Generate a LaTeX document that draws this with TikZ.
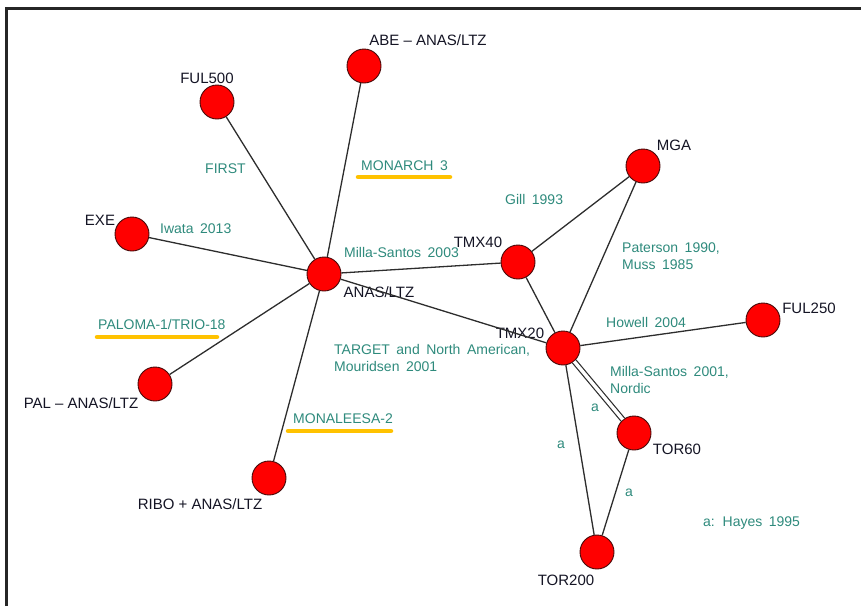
\documentclass[tikz,border=0pt]{standalone}
\usepackage{fontspec}
\setmainfont{Liberation Sans}
\usetikzlibrary{positioning}
\definecolor{nmared}{RGB}{255,0,0}
\definecolor{nmarim}{RGB}{70,10,10}
\definecolor{nmateal}{RGB}{46,138,124}
\definecolor{nmaink}{RGB}{20,20,36}
\definecolor{nmalink}{RGB}{45,45,45}
\definecolor{nmagold}{RGB}{255,194,0}

\begin{document}
\begin{tikzpicture}[x=1pt,y=-1pt,
    trt/.style={circle,draw=nmarim,fill=nmared,line width=0.9pt,minimum size=34pt,inner sep=0pt},
    trtname/.style={text=nmaink,inner sep=0pt,font={\fontsize{15}{17}\selectfont}},
    study/.style={text=nmateal,inner sep=0pt,anchor=west,align=left,font={\fontsize{14}{17}\selectfont\spaceskip=6.5pt\relax}},
    link/.style={draw=nmalink,line width=1.3pt},
    hilite/.style={draw=nmagold,line width=4.5pt,line cap=round}]
    \useasboundingbox (0,0) rectangle (861,606);
    \draw[line width=3pt,black!85] (6,606) -- (6,8.5) -- (861,8.5);
    % treatments
    \node[trt] (anas) at (324,274) {};\node[trtname] (anasname) at (379,292) {ANAS/LTZ};
    \node[trt] (abe) at (364,66) {};\node[trtname] (abename) at (428,40) {ABE – ANAS/LTZ};
    \node[trt] (ful500) at (217,102) {};\node[trtname] (ful500name) at (207,78) {FUL500};
    \node[trt] (exe) at (132,234) {};\node[trtname] (exename) at (100,220) {EXE};
    \node[trt] (pal) at (155,384) {};\node[trtname] (palname) at (81,403) {PAL – ANAS/LTZ};
    \node[trt] (ribo) at (269,478) {};\node[trtname] (riboname) at (200,504) {RIBO + ANAS/LTZ};
    \node[trt] (tmx40) at (518,262) {};\node[trtname] (tmx40name) at (478,242) {TMX40};
    \node[trt] (mga) at (643,166) {};\node[trtname] (mganame) at (674,145) {MGA};
    \node[trt] (tmx20) at (563,348) {};\node[trtname] (tmx20name) at (520,333) {TMX20};
    \node[trt] (ful250) at (763,320) {};\node[trtname] (ful250name) at (809,308) {FUL250};
    \node[trt] (tor60) at (634,433) {};\node[trtname] (tor60name) at (677,449) {TOR60};
    \node[trt] (tor200) at (597,552) {};\node[trtname] (tor200name) at (566,580) {TOR200};
    % comparisons
    \foreach \other in {abe,ful500,exe,pal,ribo,tmx40,tmx20}
      \draw[link] (anas) -- (\other);
    \draw[link] (tmx40) -- (mga);\draw[link] (tmx40) -- (tmx20);\draw[link] (mga) -- (tmx20);
    \draw[link] (tmx20) -- (ful250);\draw[link] (tmx20) -- (tor200);\draw[link] (tor60) -- (tor200);
    \draw[link,line width=1.2pt,double=white,double distance=3.4pt] (tmx20) -- (tor60);
    % trials
    \node[study] (first) at (205,169) {FIRST};
    \node[study] (monarch) at (361,166) {MONARCH 3};\draw[hilite] (358,177) -- (450,177);
    \node[study] (iwata) at (160,229) {Iwata 2013};
    \node[study] (milla03) at (344,252) {Milla-Santos 2003};
    \node[study] (gill) at (505,199) {Gill 1993};
    \node[study] (paterson) at (622,256) {Paterson 1990,\\Muss 1985};
    \node[study] (paloma) at (98,324) {PALOMA-1/TRIO-18};\draw[hilite] (97,337) -- (217,337);
    \node[study] (target) at (334,358) {TARGET and North American,\\Mouridsen 2001};
    \node[study] (howell) at (606,322) {Howell 2004};
    \node[study] (milla01) at (610,380) {Milla-Santos 2001,\\Nordic};
    \node[study] (monaleesa) at (293,419) {MONALEESA-2};\draw[hilite] (288,431) -- (391,431);
    \node[study,anchor=center] (hayesa) at (595,408) {a};
    \node[study,anchor=center] (hayesb) at (561,445) {a};
    \node[study,anchor=center] (hayesc) at (629,493) {a};
    \node[study] (hayes) at (703,523) {a: Hayes 1995};
  \end{tikzpicture}
\end{document}
